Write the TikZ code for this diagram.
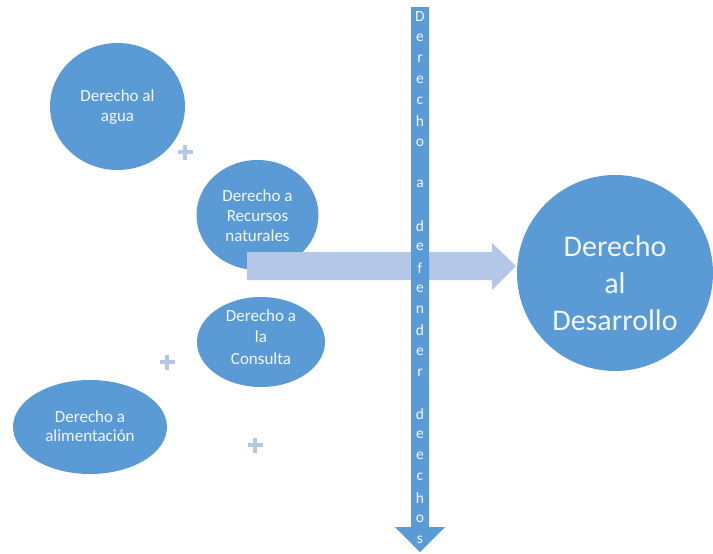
\documentclass[tikz,border=0pt]{standalone}
\usepackage{fontspec}
\setmainfont{Carlito}
\definecolor{blu}{HTML}{5B9BD5}
\definecolor{lblu}{HTML}{B4C7E7}
\definecolor{txt}{HTML}{F2F6FB}
\begin{document}
\begin{tikzpicture}[x=1pt,y=-1pt,
  lbl/.style={text=txt, align=center, inner sep=0pt, font=\fontsize{17}{20}\selectfont},
  plussign/.style={lblu, line width=4.5pt},
]
\useasboundingbox (0,0) rectangle (713,554);
% ellipses
\fill[blu] (117.5,106.5) ellipse [x radius=67.5, y radius=63.5];
\node[lbl] (agua) at (117.5,107) {Derecho al\\agua};
\fill[blu] (257.5,215) ellipse [x radius=61, y radius=55];
\node[lbl] (rec) at (257.5,216) {Derecho a\\Recursos\\naturales};
\fill[blu] (261,342) ellipse [x radius=64, y radius=45];
\node[lbl, font=\fontsize{17}{21.5}\selectfont] (cons) at (261,337) {Derecho a\\la\\Consulta};
\fill[blu] (90,427) ellipse [x radius=77, y radius=47];
\node[lbl, font=\fontsize{17}{19}\selectfont] (ali) at (90,426) {Derecho a\\alimentación};
\fill[blu] (615,273) circle [radius=98];
\node[text=txt, align=center, inner sep=0pt, font=\fontsize{30}{37}\selectfont] (des) at (615,283) {Derecho\\al\\Desarrollo};
% plus signs
\coordinate (p1) at (185,152);
\coordinate (p2) at (167,362);
\coordinate (p3) at (255,445);
\foreach \p in {p1,p2,p3}{
  \draw[plussign] ([xshift=-7.5pt]\p) -- ([xshift=7.5pt]\p);
  \draw[plussign] ([yshift=-7.5pt]\p) -- ([yshift=7.5pt]\p);
}
% horizontal arrow
\fill[lblu] (247,252) -- (492,252) -- (492,243) -- (516,266) -- (492,290) -- (492,280) -- (247,280) -- cycle;
% vertical arrow
\fill[blu] (411,7) -- (429,7) -- (429,527) -- (445,527) -- (420,552) -- (395,527) -- (411,527) -- cycle;
\foreach \c [count=\i from 0] in {D,e,r,e,c,h,o,{},a,{},d,e,f,e,n,d,e,r,{},d,e,e,c,h,o,s}{
  \node[text=txt, font=\fontsize{15.5}{17}\selectfont, inner sep=0pt] (v\i) at (420,{17+\i*20.9}) {\c};
}
\end{tikzpicture}
\end{document}
